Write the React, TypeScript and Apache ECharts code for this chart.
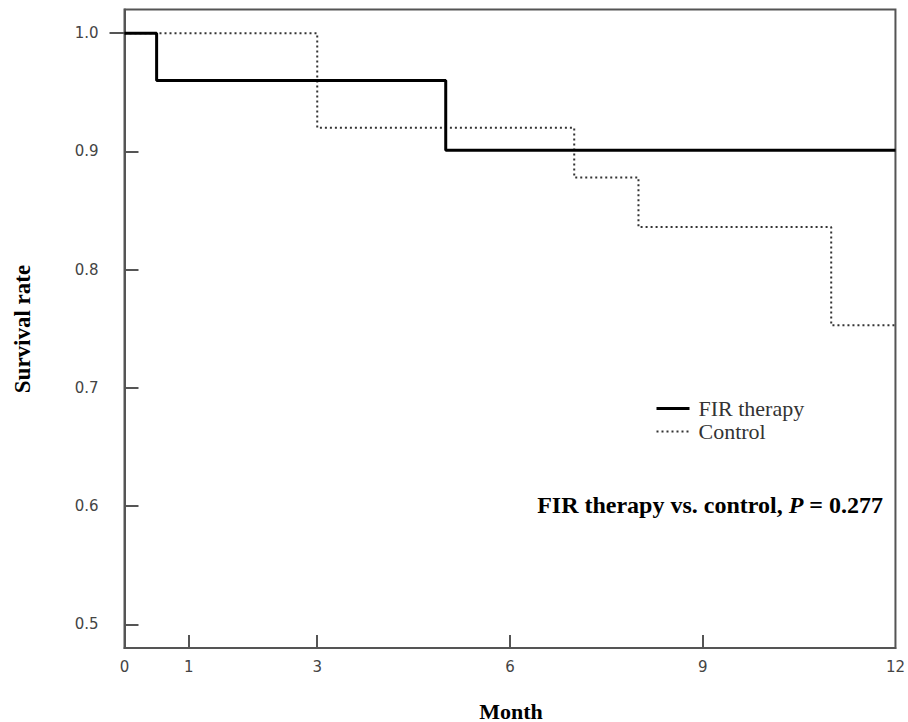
import React, { useEffect, useRef } from "react";
import * as echarts from "echarts";

const firTimes = [0, 0.5, 5, 12];
const firValues = [1.0, 0.96, 0.901, 0.901];
const controlTimes = [0, 3, 7, 8, 11, 12];
const controlValues = [1.0, 0.92, 0.878, 0.836, 0.753, 0.753];
const xLabelValues = [0, 1, 3, 6, 9, 12];
const xTickValues = [1, 3, 6, 9];
const yLabelValues = [0.5, 0.6, 0.7, 0.8, 0.9, 1.0];
const yInsideTickValues = [0.5, 0.6, 0.7, 0.8, 0.9];
const yOutsideTickValues = [1.0];
const seriesNames = ["FIR therapy", "Control"];
const xTitle = "Month";
const yTitle = "Survival rate";

const SERIF = "'Liberation Serif', 'Times New Roman', serif";
const SANS = "'DejaVu Sans', Verdana, sans-serif";

export default function App() {
  const ref = useRef<HTMLDivElement>(null);
  useEffect(() => {
    if (!ref.current) return;
    const chart = echarts.init(ref.current, undefined, { renderer: "svg" });
    const axisColor = "#555";
    chart.setOption({
      animation: false,
      backgroundColor: "#fff",
      grid: {
        left: 124.5,
        top: 9.5,
        right: 9.5,
        bottom: 74,
        show: true,
        borderColor: axisColor,
        borderWidth: 2,
        backgroundColor: "transparent",
      },
      xAxis: {
        type: "value",
        min: 0,
        max: 12,
        axisLine: { show: true, lineStyle: { color: axisColor, width: 2 } },
        axisTick: {
          show: true,
          inside: true,
          length: 13,
          customValues: xTickValues,
          lineStyle: { color: axisColor, width: 2 },
        },
        axisLabel: {
          customValues: xLabelValues,
          margin: 11,
          color: "#444",
          fontSize: 15,
          fontFamily: SANS,
        },
        splitLine: { show: false },
      },
      yAxis: [
        {
          type: "value",
          min: 0.48,
          max: 1.02,
          axisLine: { show: true, lineStyle: { color: axisColor, width: 2 } },
          axisTick: {
            show: true,
            inside: true,
            length: 14,
            customValues: yInsideTickValues,
            lineStyle: { color: axisColor, width: 2 },
          },
          axisLabel: {
            customValues: yLabelValues,
            margin: 26,
            color: "#444",
            fontSize: 15,
            fontFamily: SANS,
            formatter: (v: number) => v.toFixed(1),
          },
          splitLine: { show: false },
        },
        {
          type: "value",
          min: 0.48,
          max: 1.02,
          position: "left",
          axisLine: { show: false },
          axisTick: {
            show: true,
            inside: false,
            length: 15,
            customValues: yOutsideTickValues,
            lineStyle: { color: axisColor, width: 2 },
          },
          axisLabel: { show: false },
          splitLine: { show: false },
        },
      ],
      legend: {
        orient: "vertical",
        left: 655,
        top: 397,
        padding: 0,
        itemGap: 0,
        itemWidth: 33,
        itemHeight: 23,
        itemStyle: { opacity: 0 },
        textStyle: {
          fontFamily: SERIF,
          fontSize: 22,
          lineHeight: 23,
          color: "#333",
          padding: [0, 0, 0, 4],
        },
        data: [
          { name: seriesNames[0], lineStyle: { width: 3, color: "#000" } },
          { name: seriesNames[1], lineStyle: { width: 2, color: "#333", type: [2, 3] } },
        ],
      },
      series: [
        {
          name: seriesNames[0],
          type: "line",
          step: "end",
          symbol: "none",
          data: firTimes.map((t, i) => [t, firValues[i]]),
          lineStyle: { color: "#000", width: 3 },
          itemStyle: { color: "#000" },
          z: 3,
        },
        {
          name: seriesNames[1],
          type: "line",
          step: "end",
          symbol: "none",
          data: controlTimes.map((t, i) => [t, controlValues[i]]),
          lineStyle: { color: "#333", width: 2, type: [2, 3] },
          itemStyle: { color: "#333" },
          z: 2,
        },
      ],
      graphic: [
        {
          type: "text",
          x: 883,
          y: 505,
          style: {
            text: "{b|FIR therapy vs. control, }{i|P}{b| = 0.277}",
            align: "right",
            verticalAlign: "middle",
            rich: {
              b: { fontFamily: SERIF, fontSize: 24, fontWeight: "bold", fill: "#000" },
              i: { fontFamily: SERIF, fontSize: 24, fontWeight: "bold", fontStyle: "italic", fill: "#000" },
            },
          },
        },
        {
          type: "text",
          x: 511,
          y: 711,
          style: {
            text: xTitle,
            align: "center",
            verticalAlign: "middle",
            fontFamily: SERIF,
            fontSize: 22,
            fontWeight: "bold",
            fill: "#000",
          },
        },
        {
          type: "text",
          x: 22,
          y: 329,
          rotation: Math.PI / 2,
          style: {
            text: yTitle,
            align: "center",
            verticalAlign: "middle",
            fontFamily: SERIF,
            fontSize: 23,
            fontWeight: "bold",
            fill: "#000",
          },
        },
      ],
    });
    return () => chart.dispose();
  }, []);
  return (
    <div
      ref={ref}
      style={{ position: "fixed", left: 0, top: 0, width: 908, height: 722 }}
    />
  );
}
